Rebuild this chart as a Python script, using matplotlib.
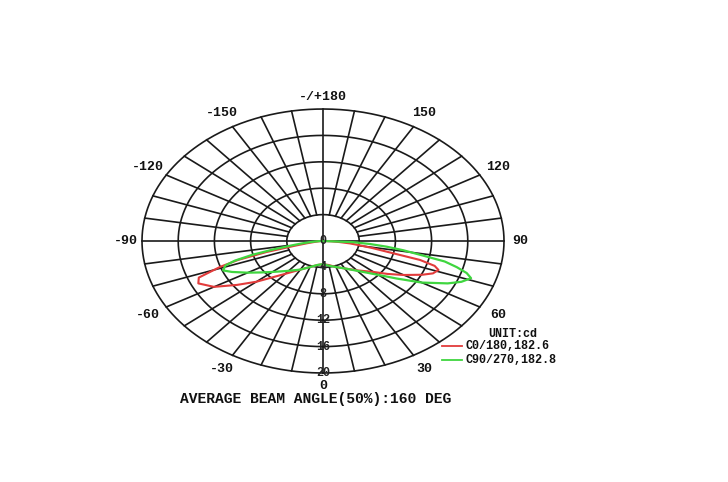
import numpy as np
import matplotlib
matplotlib.use("Agg")
import matplotlib.pyplot as plt

# ---- data (angle from nadir in degrees, intensity on the chart's radial scale) ----
angles = [0, 10, 20, 30, 40, 50, 55, 60, 65, 68, 71, 73, 75, 77, 79, 81, 83, 85, 87, 90]
c0_right = [3.5, 3.7, 4.2, 4.8, 5.8, 7.3, 8.7, 10.3, 12.1, 13.1, 13.5, 12.9, 11.1, 7.3, 5.5, 4.0, 3.0, 1.8, 0.9, 0.0]
c180_left = [3.5, 3.7, 4.2, 5.0, 6.5, 9.6, 11.6, 13.9, 15.2, 14.8, 12.0, 9.8, 6.5, 3.2, 1.8, 1.0, 0.6, 0.4, 0.2, 0.0]
c90_right = [3.5, 3.8, 4.2, 4.8, 5.9, 8.0, 9.9, 12.6, 15.2, 16.5, 17.3, 16.6, 15.3, 13.8, 10.9, 9.0, 7.1, 5.2, 3.3, 0.0]
c270_left = [3.5, 3.7, 4.2, 5.0, 5.9, 7.3, 8.3, 9.6, 11.1, 11.9, 11.4, 10.2, 8.1, 5.5, 3.6, 2.4, 1.5, 0.9, 0.4, 0.0]

ring_values = [4, 8, 12, 16, 20]
angle_labels = [0, 30, 60, 90, 120, 150, 180, -150, -120, -90, -60, -30]
angle_texts = ["0", "30", "60", "90", "120", "150", "-/+180", "-150", "-120", "-90", "-60", "-30"]
legend_labels = ["C0/180,182.6", "C90/270,182.8"]
unit_text = "UNIT:cd"
beam_text = "AVERAGE BEAM ANGLE(50%):160 DEG"

RED = "#e23b3b"
GREEN = "#3fd63f"
FONT = "Liberation Mono"

fig = plt.figure(figsize=(7.28, 4.82), dpi=100)
ax = fig.add_axes([0, 0, 1, 1])
ax.set_xlim(-35.69, 44.75)
ax.set_ylim(-36.52, 36.52)
ax.axis("off")


def to_xy(theta_deg, r):
    t = np.radians(np.asarray(theta_deg, dtype=float))
    r = np.asarray(r, dtype=float)
    return r * np.sin(t), -r * np.cos(t)


# rings
tt = np.linspace(0, 360, 721)
for rv in ring_values:
    x, y = to_xy(tt, np.full_like(tt, rv))
    ax.plot(x, y, color="#1a1a1a", lw=1.2, zorder=1)

# spokes every 10 degrees from inner ring to outer ring
for a in range(0, 360, 10):
    if a % 90 == 0:
        x, y = to_xy([a, a], [0, ring_values[-1]])
    else:
        x, y = to_xy([a, a], [ring_values[0], ring_values[-1]])
    ax.plot(x, y, color="#1a1a1a", lw=1.2, zorder=1)


def full_curve(right_vals, left_vals):
    a = np.array(angles, dtype=float)
    th = np.concatenate([-a[::-1], a[1:]])
    rr = np.concatenate([np.array(left_vals)[::-1], np.array(right_vals)[1:]])
    return to_xy(th, rr)


x, y = full_curve(c0_right, c180_left)
ax.plot(x, y, color=RED, lw=1.5, zorder=3)
x, y = full_curve(c90_right, c270_left)
ax.plot(x, y, color=GREEN, lw=1.6, zorder=3)

# angle labels
for a, s in zip(angle_labels, angle_texts):
    rl = 21.8 if a % 90 == 0 else 22.4
    if a == 0:
        rl = 22.0
    x, y = to_xy(a, rl)
    ax.text(x, y, s, ha="center", va="center", fontsize=9.5, fontweight="bold",
            family=FONT, color="#111111", zorder=4)

# radial labels
for rv in [0] + ring_values:
    x, y = to_xy(0, rv)
    ax.text(x, y, str(rv), ha="center", va="center", fontsize=8.5, fontweight="bold",
            family=FONT, color="#222222", zorder=4)

# legend
ax.text(0.670, 0.307, unit_text, transform=ax.transAxes, ha="left", va="center",
        fontsize=8.5, fontweight="bold", family=FONT, color="#111111")
for i, (lab, col) in enumerate(zip(legend_labels, [RED, GREEN])):
    yy = 0.282 - i * 0.029
    ax.plot([0.607, 0.634], [yy, yy], transform=ax.transAxes, color=col, lw=1.3)
    ax.text(0.640, yy, lab, transform=ax.transAxes, ha="left", va="center",
            fontsize=8.5, fontweight="bold", family=FONT, color="#111111")

ax.text(0.433, 0.172, beam_text, transform=ax.transAxes, ha="center", va="center",
        fontsize=10.5, fontweight="bold", family=FONT, color="#111111")

fig.savefig("out.png", dpi=100, facecolor="white")
